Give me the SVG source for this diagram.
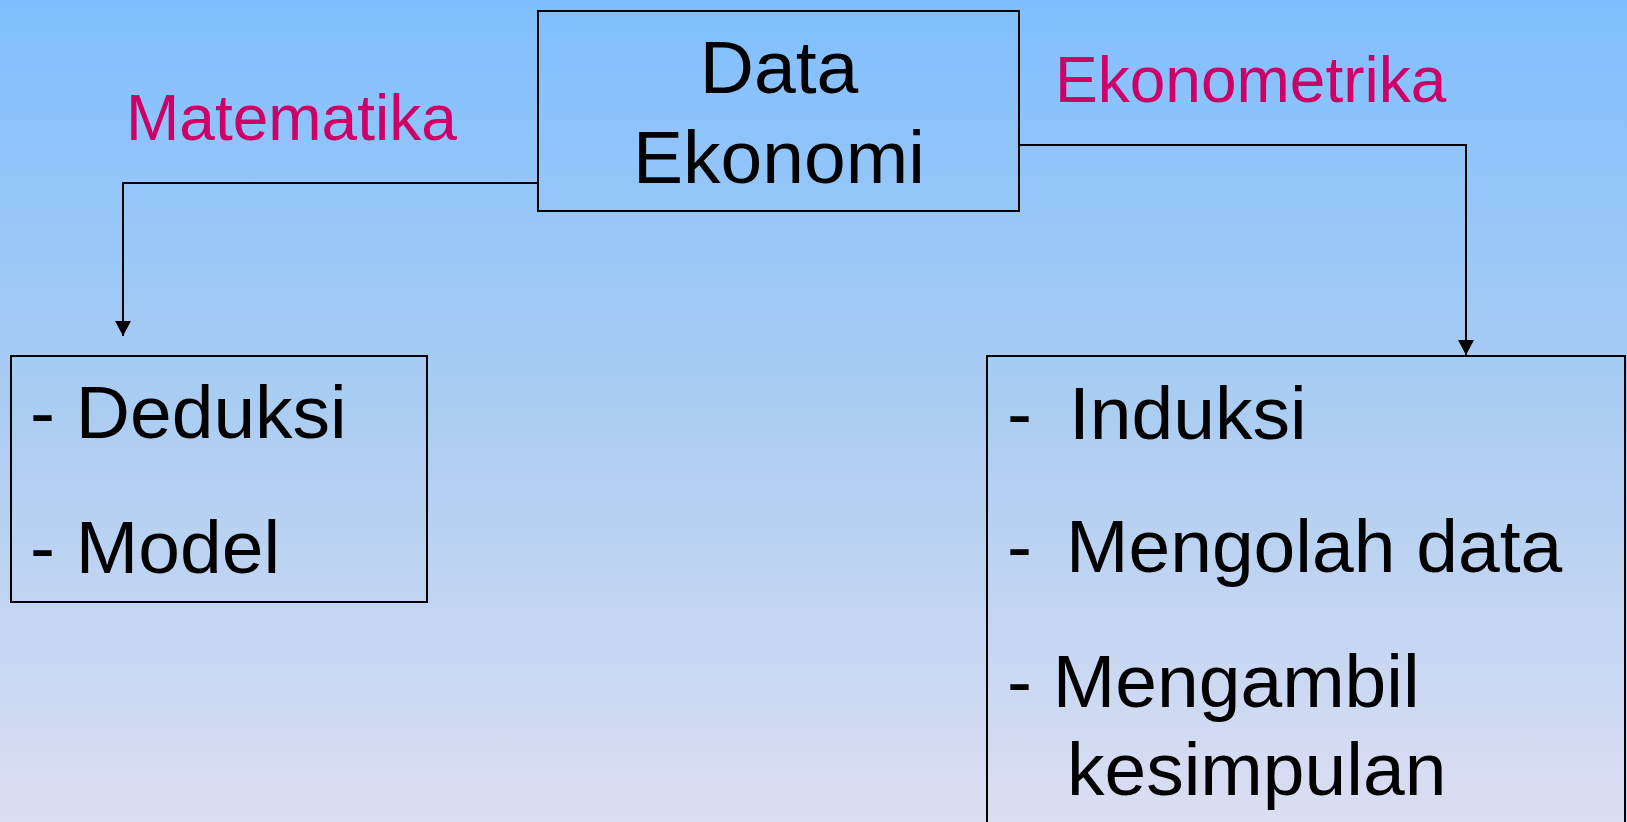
<svg xmlns="http://www.w3.org/2000/svg" width="1627" height="822" viewBox="0 0 1627 822">
  <defs>
    <linearGradient id="bg" x1="0" y1="0" x2="0" y2="1">
      <stop offset="0" stop-color="#80BFFF"/>
      <stop offset="0.5" stop-color="#ABCDF2"/>
      <stop offset="1" stop-color="#DCDEF2"/>
    </linearGradient>
    <marker id="arrow" markerWidth="16" markerHeight="16" refX="15" refY="8" orient="auto" markerUnits="userSpaceOnUse">
      <path d="M0,0 L15,8 L0,16 Z" fill="#000"/>
    </marker>
  </defs>
  <style>
    .box { fill: none; stroke: #000; stroke-width: 2; }
    .conn { fill: none; stroke: #000; stroke-width: 2; }
    .main { font-family: "Liberation Sans", Arial, sans-serif; font-size: 75px; fill: #000; }
    .label { font-family: "Liberation Sans", Arial, sans-serif; font-size: 64px; fill: #CC0066; }
  </style>
  <rect x="0" y="0" width="1627" height="822" fill="url(#bg)"/>

  <g id="connectors">
    <polyline class="conn" points="538,183 123,183 123,336" marker-end="url(#arrow)"/>
    <polyline class="conn" points="1019,145 1466,145 1466,355" marker-end="url(#arrow)"/>
  </g>

  <g id="label-matematika">
    <text class="label" x="126" y="140">Matematika</text>
  </g>
  <g id="label-ekonometrika">
    <text class="label" x="1055" y="102">Ekonometrika</text>
  </g>

  <g id="node-data-ekonomi">
    <rect class="box" x="538" y="11" width="481" height="200"/>
    <text class="main" text-anchor="middle" x="779" y="93">Data</text>
    <text class="main" text-anchor="middle" x="779" y="183">Ekonomi</text>
  </g>

  <g id="node-matematika">
    <rect class="box" x="11" y="356" width="416" height="246"/>
    <text class="main" x="30" y="438">- Deduksi</text>
    <text class="main" x="30" y="573">- Model</text>
  </g>

  <g id="node-ekonometrika">
    <rect class="box" x="987" y="356" width="638" height="480"/>
    <text class="main"><tspan x="1007" y="439">-</tspan><tspan x="1069" y="439">Induksi</tspan></text>
    <text class="main"><tspan x="1007" y="572">-</tspan><tspan x="1066" y="572">Mengolah data</tspan></text>
    <text class="main"><tspan x="1007" y="707">- Mengambil</tspan><tspan x="1067" y="795">kesimpulan</tspan></text>
  </g>
</svg>
